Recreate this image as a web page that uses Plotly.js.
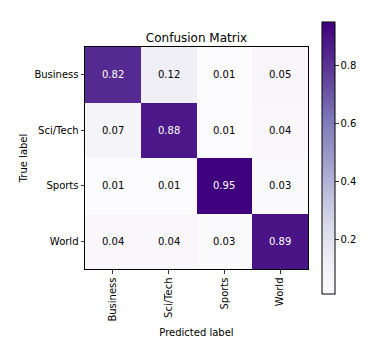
<!DOCTYPE html>
<html>
<head>
<meta charset="utf-8">
<script src="https://cdn.plot.ly/plotly-3.0.1.min.js"></script>
<style>html,body{margin:0;padding:0;background:#fff}#chart{width:381px;height:347px}</style>
</head>
<body>
<div id="chart"></div>
<script>
const trueLabels = ["Business", "Sci/Tech", "Sports", "World"];
const predLabels = ["Business", "Sci/Tech", "Sports", "World"];
const rowBusiness = [0.82, 0.12, 0.01, 0.05];
const rowSciTech  = [0.07, 0.88, 0.01, 0.04];
const rowSports   = [0.01, 0.01, 0.95, 0.03];
const rowWorld    = [0.04, 0.04, 0.03, 0.89];
const matrix = [rowBusiness, rowSciTech, rowSports, rowWorld];
const cbTicks = [0.2, 0.4, 0.6, 0.8];

const purples = [
  [0, 'rgb(252,251,253)'], [0.125, 'rgb(239,237,245)'], [0.25, 'rgb(218,218,235)'],
  [0.375, 'rgb(188,189,220)'], [0.5, 'rgb(158,154,200)'], [0.625, 'rgb(128,125,186)'],
  [0.75, 'rgb(106,81,163)'], [0.875, 'rgb(84,39,143)'], [1, 'rgb(63,0,125)']
];

const flat = matrix.flat();
const zmin = Math.min(...flat), zmax = Math.max(...flat);
const thresh = zmax / 2;

const annotations = [];
matrix.forEach((row, i) => row.forEach((v, j) => {
  annotations.push({
    x: predLabels[j], y: trueLabels[i], xref: 'x', yref: 'y',
    text: v.toFixed(2), showarrow: false,
    font: {family: 'DejaVu Sans', size: 10, color: v > thresh ? '#ffffff' : '#000000'}
  });
}));

const trace = {
  type: 'heatmap', z: matrix, x: predLabels, y: trueLabels,
  zmin: zmin, zmax: zmax, colorscale: purples, hoverinfo: 'skip',
  colorbar: {
    x: 1.063, xanchor: 'left', xref: 'paper', y: 0.5, yanchor: 'middle', len: 1.225, lenmode: 'fraction',
    thickness: 13, thicknessmode: 'pixels', outlinewidth: 1, outlinecolor: '#000',
    tickvals: cbTicks, ticktext: cbTicks.map(t => t.toFixed(1)), ticks: 'outside', ticklen: 3.5, tickwidth: 0.8,
    tickcolor: '#000', tickfont: {family: 'DejaVu Sans', size: 10, color: '#000'}, xpad: 0, ypad: 0
  }
};

const layout = {
  width: 381, height: 347,
  margin: {l: 85, r: 73, t: 47, b: 78},
  paper_bgcolor: '#fff', plot_bgcolor: '#fff',
  title: {text: 'Confusion Matrix', font: {family: 'DejaVu Sans', size: 12, color: '#000'},
          x: 0.5, xref: 'paper', xanchor: 'center', y: 1, yref: 'paper', yanchor: 'bottom', pad: {b: 5}},
  xaxis: {
    type: 'category', showline: true, linecolor: '#000', linewidth: 1, mirror: true,
    ticks: 'outside', ticklen: 3.5, tickwidth: 0.8, tickcolor: '#000', tickangle: -90,
    tickfont: {family: 'DejaVu Sans', size: 10, color: '#000'}, showgrid: false, zeroline: false,
    title: {text: 'Predicted label', font: {family: 'DejaVu Sans', size: 10, color: '#000'}, standoff: 8}
  },
  yaxis: {
    type: 'category', autorange: 'reversed', showline: true, linecolor: '#000', linewidth: 1, mirror: true,
    ticks: 'outside', ticklen: 3.5, tickwidth: 0.8, tickcolor: '#000',
    tickfont: {family: 'DejaVu Sans', size: 10, color: '#000'}, showgrid: false, zeroline: false,
    title: {text: 'True label', font: {family: 'DejaVu Sans', size: 10, color: '#000'}, standoff: 4}
  },
  annotations: annotations
};

Plotly.newPlot('chart', [trace], layout, {displayModeBar: false, staticPlot: true});
</script>
</body>
</html>
